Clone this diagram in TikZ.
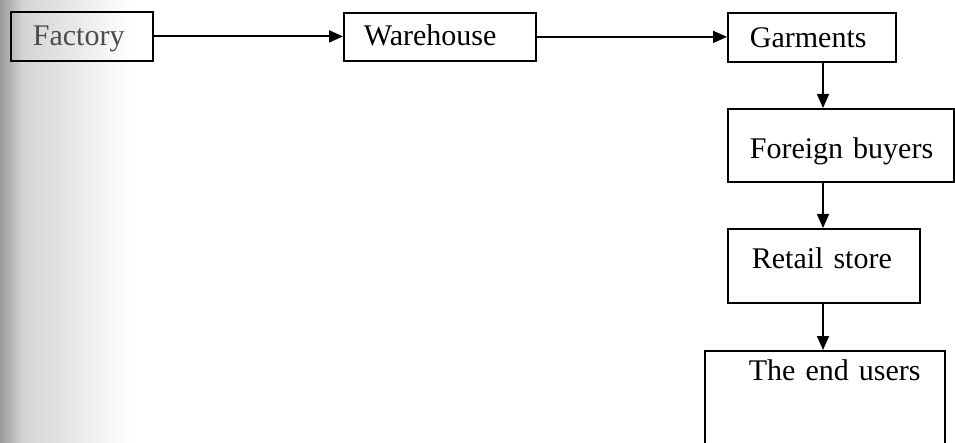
\documentclass[tikz,border=0pt]{standalone}
\usepackage{fontspec}
\setmainfont{Liberation Serif}
\usetikzlibrary{arrows.meta}
\tikzset{
  box/.style={draw, line width=1.8pt, inner sep=0pt, anchor=north west, align=left,
    font=\fontsize{30}{32}\selectfont},
  arr/.style={-{Triangle[length=14pt,width=12pt]}, line width=1.8pt}
}
\begin{document}
\begin{tikzpicture}[x=1pt,y=-1pt]
\clip (0,0) rectangle (955,443);
\fill[white] (0,0) rectangle (955,443);
\shade[left color=black!40, right color=black!17] (0,0) rectangle (22,443);
\shade[left color=black!17, right color=white] (22,0) rectangle (132,443);
\node[box, text width=142pt, text height=34pt, text depth=15pt] (fac) at (10,11)
  {\hspace*{22pt}\textcolor{black!70}{Factory}};
\node[box, text width=192pt, text height=33pt, text depth=15pt] (wh) at (343,12)
  {\hspace*{20pt}Warehouse};
\node[box, text width=168pt, text height=35pt, text depth=14pt] (gar) at (727,12)
  {\hspace*{22pt}Garments};
\node[box, text width=226pt, text height=50pt, text depth=23pt] (fb) at (727,108)
  {\hspace*{22pt}Foreign buyers};
\node[box, text width=192pt, text height=40pt, text depth=34pt] (rs) at (727,228)
  {\hspace*{24pt}Retail store};
\node[box, text width=240pt, text height=30pt, text depth=90pt] (eu) at (704,350)
  {\hspace*{44pt}The end users};
\coordinate (c) at (823,0);
\draw[arr] (fac.east) -- (fac.east -| wh.west);
\draw[arr] (wh.east) -- (wh.east -| gar.west);
\draw[arr] (gar.south -| c) -- (fb.north -| c);
\draw[arr] (fb.south -| c) -- (rs.north -| c);
\draw[arr] (rs.south -| c) -- (eu.north -| c);
\end{tikzpicture}
\end{document}
